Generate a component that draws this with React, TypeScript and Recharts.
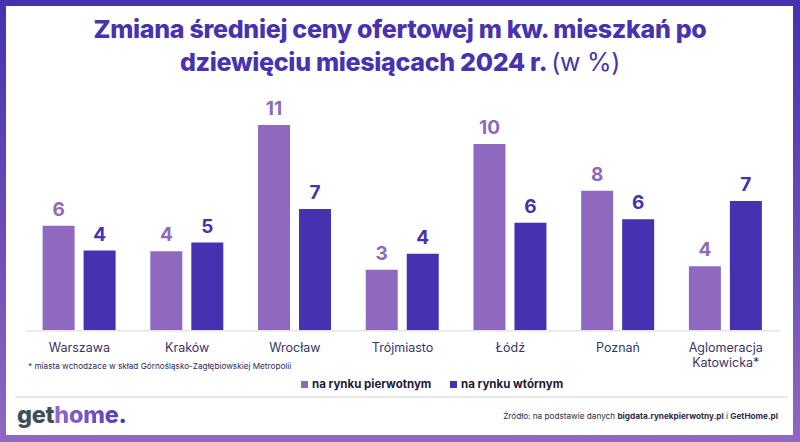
import { BarChart, Bar, XAxis, YAxis, LabelList } from 'recharts';

const cities = ['Warszawa', 'Kraków', 'Wrocław', 'Trójmiasto', 'Łódź', 'Poznań', 'Aglomeracja Katowicka*'];
const primaryMarket = [5.77, 4.36, 11.3, 3.35, 10.26, 7.69, 3.54];
const secondaryMarket = [4.4, 4.84, 6.69, 4.23, 5.93, 6.12, 7.13];
const seriesNames = ['na rynku pierwotnym', 'na rynku wtórnym'];

const LIGHT = '#8F69C0';
const DARK = '#4631B0';
const FONT = 'Inter, "Noto Sans", sans-serif';

const data = cities.map((city, i) => ({
  city,
  primary: primaryMarket[i],
  secondary: secondaryMarket[i],
}));

const CityTick = (props: any) => {
  const { x, payload } = props;
  const words = String(payload.value).split(' ');
  return (
    <text x={x} y={352} textAnchor="middle" fill="#3B3466" fontSize={12.5} fontFamily={FONT}>
      {words.map((w, i) => (
        <tspan key={i} x={x} dy={i === 0 ? 0 : 15}>{w}</tspan>
      ))}
    </text>
  );
};

const round = (v: any) => Math.round(Number(v));

export default function App() {
  return (
    <div style={{
      position: 'absolute', left: 0, top: 0, width: 800, height: 442,
      background: 'linear-gradient(180deg, #4532B0 0%, #6A4AB8 50%, #9068C0 100%)',
      fontFamily: FONT,
    }}>
      <div style={{ position: 'absolute', left: 6, top: 6, width: 787, height: 429, background: '#fff' }} />

      <div style={{
        position: 'absolute', left: 0, top: 13, width: 800, textAlign: 'center',
        fontSize: 25, fontWeight: 800, lineHeight: '33px', color: '#4733B0', letterSpacing: -0.3,
      }}>
        Zmiana średniej ceny ofertowej m kw. mieszkań po<br />
        dziewięciu miesiącach 2024 r. <span style={{ fontWeight: 400 }}>(w %)</span>
      </div>

      <div style={{ position: 'absolute', left: 0, top: 0 }}>
        <BarChart
          width={800}
          height={442}
          data={data}
          margin={{ top: 112.3, right: 20.4, bottom: 81.3, left: 25.6 }}
          barSize={32}
          barGap={9}
        >
          <YAxis hide domain={[0, 12]} />
          <XAxis
            dataKey="city"
            height={30}
            axisLine={{ stroke: '#E4E4EA', strokeWidth: 1.5 }}
            tickLine={false}
            tick={<CityTick />}
            interval={0}
          />
          <Bar dataKey="primary" fill={LIGHT} isAnimationActive={false}>
            <LabelList dataKey="primary" position="top" offset={10} formatter={round}
              fill={LIGHT} fontSize={19} fontWeight={700} fontFamily={FONT} />
          </Bar>
          <Bar dataKey="secondary" fill={DARK} isAnimationActive={false}>
            <LabelList dataKey="secondary" position="top" offset={10} formatter={round}
              fill={DARK} fontSize={19} fontWeight={700} fontFamily={FONT} />
          </Bar>
        </BarChart>
      </div>

      <div style={{ position: 'absolute', left: 28, top: 361, fontSize: 8.2, color: '#2E2A5A' }}>
        * miasta wchodzace w skład Górnośląsko-Zagłębiowskiej Metropolii
      </div>

      {seriesNames.map((name, i) => (
        <div key={name} style={{
          position: 'absolute', left: i === 0 ? 301 : 450, top: 377,
          display: 'flex', alignItems: 'center', fontSize: 11.5, fontWeight: 700, color: '#1F1A3D',
        }}>
          <span style={{ width: 7, height: 7, background: i === 0 ? LIGHT : DARK, marginRight: 4, display: 'inline-block' }} />
          {name}
        </div>
      ))}

      <div style={{ position: 'absolute', left: 15, top: 396, width: 773, height: 1.5, background: '#E8E8EC' }} />

      <div style={{ position: 'absolute', left: 17, top: 403, fontSize: 23.5, fontWeight: 800, lineHeight: 1, letterSpacing: -0.3 }}>
        <span style={{ color: '#3D5059' }}>get</span>
        <span style={{
          background: 'linear-gradient(90deg, #9A66C8, #5A3DBF)',
          WebkitBackgroundClip: 'text', backgroundClip: 'text', color: 'transparent',
        }}>home</span>
        <span style={{ color: '#4A35B5' }}>.</span>
      </div>

      <div style={{ position: 'absolute', right: 22, top: 411, fontSize: 8.2, color: '#2E2A4A' }}>
        Źródło: na podstawie danych <b>bigdata.rynekpierwotny.pl</b> i <b>GetHome.pl</b>
      </div>
    </div>
  );
}
